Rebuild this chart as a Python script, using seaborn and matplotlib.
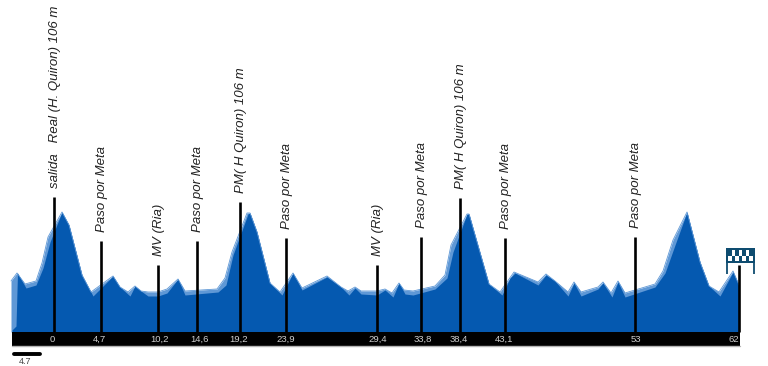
#! /usr/bin/python3
"""
"""
import matplotlib

matplotlib.use("Agg")
import matplotlib.pyplot as plt
import numpy as np
import seaborn as sns
from matplotlib.colors import ListedColormap

# Back layer of the profile (track position, height)
back_x = [11, 17, 25, 36, 42, 48, 62, 69, 82, 91,
          113, 120, 128, 135, 141, 148, 158, 167, 178, 185,
          217, 225, 232, 247, 250, 257, 270, 280, 293, 302,
          327, 341, 348, 355, 361, 377, 385, 392, 399, 404,
          413, 435, 445, 451, 467, 469, 489, 500, 514, 538,
          546, 555, 568, 574, 581, 598, 603, 611, 618, 625,
          655, 663, 673, 687, 700, 709, 719, 733, 739]
back_alt = [51, 59, 48, 51, 69, 95, 120, 107, 57, 40,
            56, 45, 40, 46, 41, 40, 40, 43, 53, 41,
            43, 54, 80, 119, 119, 100, 49, 40, 59, 44,
            56, 45, 41, 45, 41, 41, 43, 39, 49, 42,
            41, 46, 57, 87, 118, 118, 48, 40, 60, 50,
            58, 51, 40, 50, 40, 45, 50, 39, 51, 39,
            48, 61, 92, 120, 70, 46, 40, 61, 47]

# Front layer of the profile
front_x = [12, 16, 17.5, 26, 36, 43, 50, 62, 69, 82,
           93, 113, 120, 130, 135, 141, 148, 158, 167, 178,
           185, 218, 226, 233, 248, 250, 257, 270, 282, 293,
           302, 327, 341, 349, 355, 361, 377, 385, 393, 399,
           405, 413, 435, 447, 453, 467, 469, 489, 502, 510,
           515, 538, 546, 555, 568, 574, 581, 598, 603, 612,
           618, 625, 655, 665, 675, 687, 700, 709, 720, 733,
           739]
front_alt = [2, 6, 59, 44, 47, 64, 90, 120, 107, 57,
             36, 56, 45, 36, 46, 41, 36, 36, 39, 53,
             37, 40, 47, 77, 118, 119, 100, 49, 37, 59,
             42, 55, 45, 37, 44, 38, 37, 42, 35, 49,
             38, 37, 43, 54, 80, 118, 118, 48, 37, 54,
             59, 47, 57, 51, 36, 49, 36, 43, 49, 35,
             50, 35, 45, 59, 87, 120, 70, 46, 36, 60,
             47]

# Points of the route
point_x = [54, 100.5, 157.5, 197, 239.5, 285.5, 377, 420.5, 459.5, 504.5, 634.5, 739]
point_height = [135, 91, 67, 91, 130, 94, 67, 95, 134, 94, 95, 67]
point_km = ["0", "4,7", "10,2", "14,6", "19,2", "23,9", "29,4", "33,8", "38,4", "43,1", "53", "62"]
point_km_x = [52, 99, 159.5, 199, 239, 285.5, 378, 423, 458.5, 504, 635.5, 734]
point_names = [
    "salida   Real (H. Quiron) 106 m",
    "Paso por Meta",
    "MV (Ria)",
    "Paso por Meta",
    "PM( H Quiron) 106 m",
    "Paso por Meta",
    "MV (Ria)",
    "Paso por Meta",
    "PM( H Quiron) 106 m",
    "Paso por Meta",
    "Paso por Meta",
    "",
]

# Finish flag squares
flag_cells = [[1, 0, 1, 0, 1, 0, 1], [0, 1, 0, 1, 0, 1, 0]]

FRONT = "#0559b0"
BACK = "#5f98d6"
FLAG = "#0e4c70"

sns.set_theme(style="white")
plt.rcParams["font.family"] = ["Liberation Sans", "DejaVu Sans"]

fig = plt.figure(figsize=(7.68, 3.66), dpi=100)
ax = fig.add_axes([0, 0, 1, 1])

# Profile layers
ax.fill_between(back_x, 0, back_alt, color=BACK, lw=0)
sns.lineplot(x=back_x, y=back_alt, color=BACK, lw=0.6, ax=ax)
ax.fill_between(front_x, 0, front_alt, color=FRONT, lw=0)

# Distance band
ax.fill_between([11.5, 740], -14, 0, color="black", lw=0, zorder=3)
ax.plot([11.5, 740], [-14, -14], color="#b5b5b5", lw=1, zorder=3)

# Route markers with their names and distances
ax.vlines(point_x, 0, point_height, color="black", lw=1.9, zorder=4)
for x, km in zip(point_km_x, point_km):
    ax.text(x, -7.5, km, color="#cfcfcf", fontsize=6.8, ha="center", va="center", zorder=5)
for x, h, name in zip(point_x, point_height, point_names):
    ax.text(x + 1.5, h + 9, name, color="#222222", fontsize=9.5, style="italic",
            rotation=90, ha="center", va="bottom")

# Scale bar
ax.plot([14, 40], [-21.5, -21.5], color="black", lw=2.8, solid_capstyle="round")
ax.text(25, -29, "4.7", color="#444444", fontsize=6.5, ha="center", va="center")

# Finish flag
ax.vlines([726.7, 754.3], 58, 84, color=FLAG, lw=1.3, zorder=2)
ax.fill_between([726, 755], 69, 84, color=FLAG, lw=0, zorder=2)
ax.pcolormesh(np.linspace(728, 753, 8), np.linspace(71, 82, 3), flag_cells,
              cmap=ListedColormap([FLAG, "white"]), vmin=0, vmax=1, zorder=2.5, shading="flat")

ax.set_xlim(0, 768)
ax.set_ylim(-34, 332)
ax.axis("off")

fig.savefig("out.png", dpi=100)
